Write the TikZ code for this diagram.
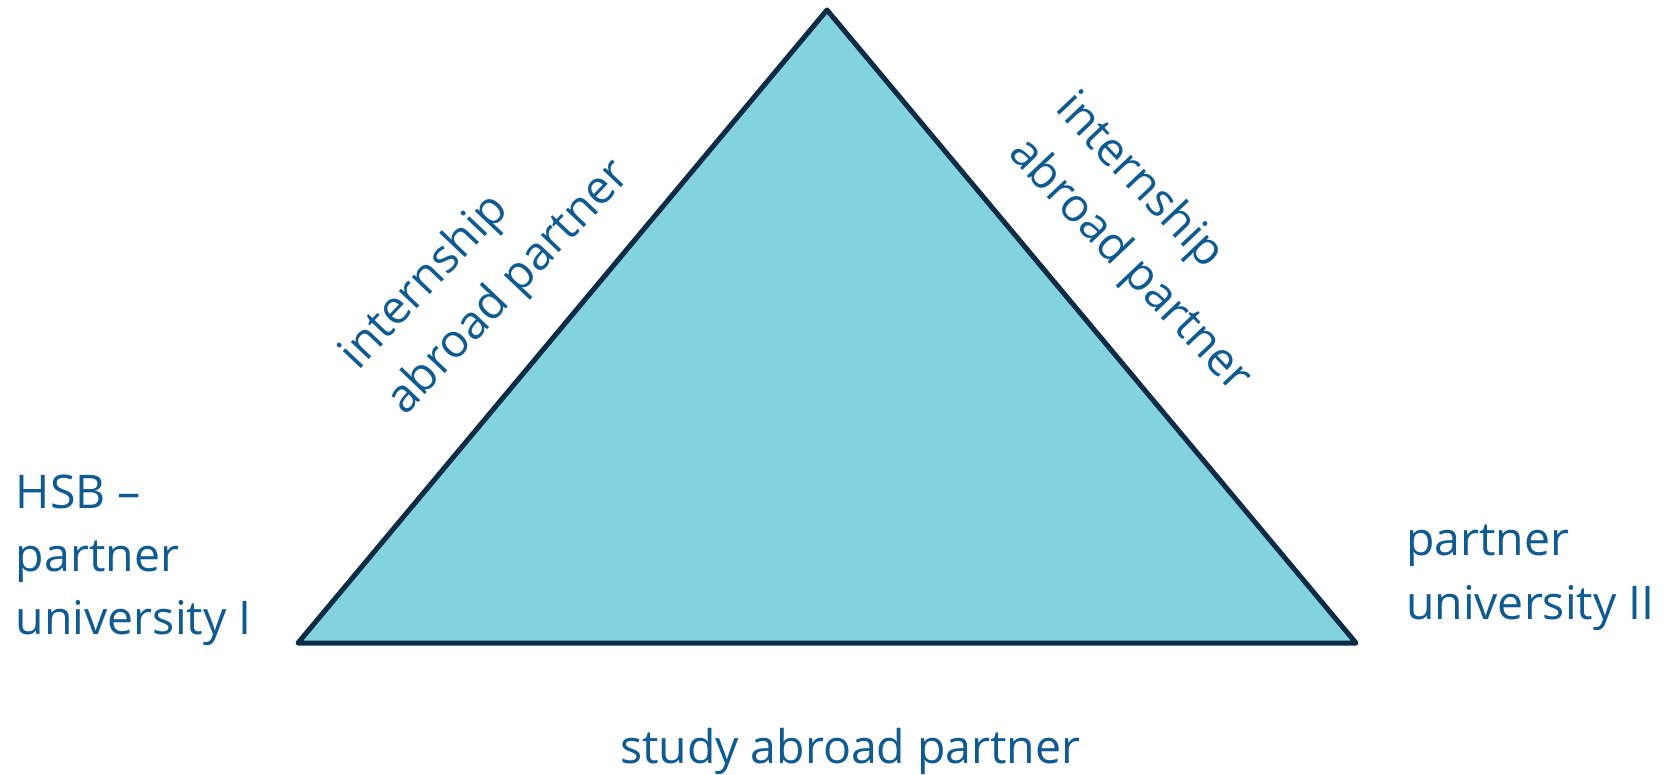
\documentclass[tikz,border=0pt]{standalone}
\usepackage{fontspec}
\setmainfont{Open Sans}
\definecolor{txtblue}{RGB}{14,90,145}
\definecolor{trifill}{RGB}{130,211,223}
\definecolor{tristroke}{RGB}{12,43,70}
\tikzset{
  lbl/.style={anchor=base west, inner sep=0pt, outer sep=0pt, text=txtblue,
    font=\fontsize{46.4}{64}\selectfont},
  tri/.style={fill=trifill, draw=tristroke, line width=5pt, line join=round}
}
\begin{document}
\begin{tikzpicture}[x=1pt,y=-1pt]
\useasboundingbox (0,0) rectangle (1669,775);
\coordinate (top) at (827,10);
\coordinate (bl) at (298,643);
\coordinate (br) at (1356,643);
\draw[tri] (top) -- (br) -- (bl) -- cycle;
% left corner label
\node[lbl] (l1) at (16,508) {HSB –};
\node[lbl] (l2) at (16,571) {partner};
\node[lbl] (l3) at (16,634) {university I};
% right corner label
\node[lbl] (r1) at (1406,555) {partner};
\node[lbl] (r2) at (1406,619) {university II};
% bottom label
\node[lbl] (b1) at (620,763) {study abroad partner};
% left edge label
\node[lbl, rotate=46.5] (e1) at (358,371) {internship};
\node[lbl, rotate=46.5] (e2) at (405,416) {abroad partner};
% right edge label
\node[lbl, rotate=-46.5] (f1) at (1054,110) {internship};
\node[lbl, rotate=-46.5] (f2) at (1007,155) {abroad partner};
\end{tikzpicture}
\end{document}
